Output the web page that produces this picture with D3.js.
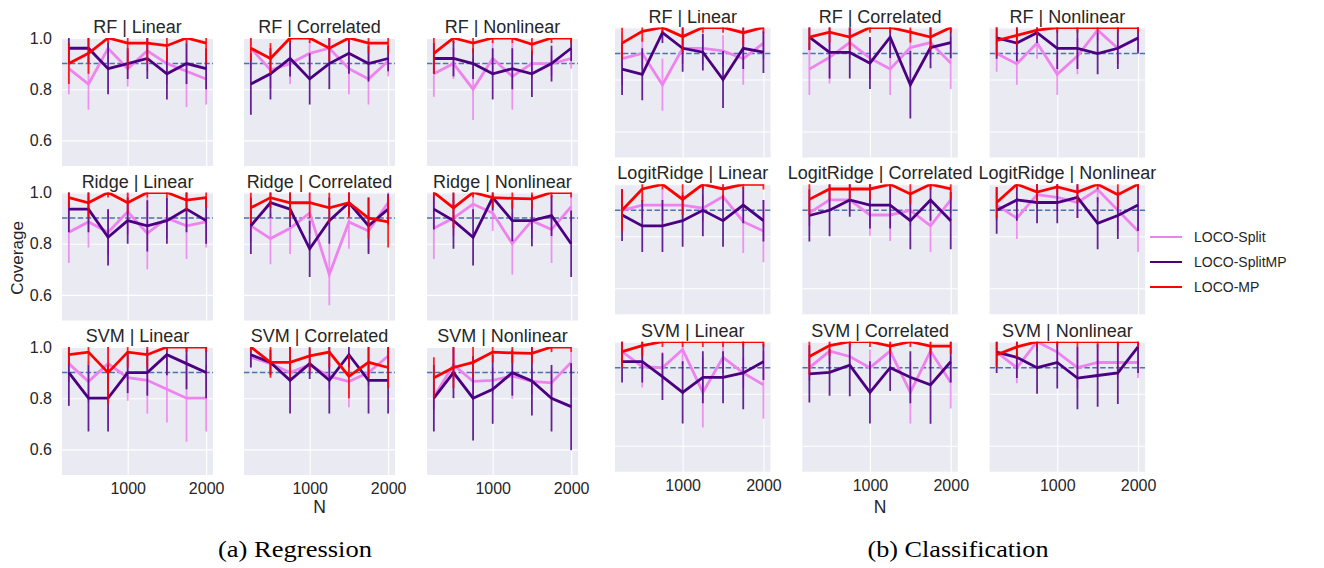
<!DOCTYPE html>
<html><head><meta charset="utf-8">
<script src="https://cdn.jsdelivr.net/npm/d3@7"></script>
<style>body{margin:0;background:#fff}svg{display:block}</style>
</head><body>
<script>
const nValues = [250, 500, 750, 1000, 1250, 1500, 1750, 2000];
const xTicks = [1000, 2000];
const yTicks = [0.6, 0.8, 1.0];
const target = 0.9;
const seriesNames = ["LOCO-Split", "LOCO-SplitMP", "LOCO-MP"];
const regTitles = ["RF | Linear","RF | Correlated","RF | Nonlinear","Ridge | Linear","Ridge | Correlated","Ridge | Nonlinear","SVM | Linear","SVM | Correlated","SVM | Nonlinear"];
const clsTitles = ["RF | Linear","RF | Correlated","RF | Nonlinear","LogitRidge | Linear","LogitRidge | Correlated","LogitRidge | Nonlinear","SVM | Linear","SVM | Correlated","SVM | Nonlinear"];

// Regression
const regSplitMean = [
 [0.88,0.82,0.96,0.88,0.95,0.90,0.87,0.84],
 [0.96,0.875,0.90,0.94,0.96,0.88,0.84,0.91],
 [0.86,0.90,0.80,0.92,0.85,0.90,0.90,0.92],
 [0.845,0.885,0.845,0.925,0.84,0.90,0.87,0.885],
 [0.87,0.82,0.86,0.92,0.68,0.885,0.85,0.96],
 [0.86,0.90,0.955,0.92,0.80,0.89,0.855,0.945],
 [0.935,0.865,0.935,0.88,0.87,0.835,0.80,0.80],
 [0.96,0.935,0.90,0.93,0.885,0.865,0.90,0.965],
 [0.805,0.93,0.866,0.87,0.887,0.866,0.86,0.94]];
const regSplitErr = [
 [0.10,0.10,0.06,0.07,0.08,0.08,0.14,0.10],
 [0.08,0.07,0.08,0.06,0.06,0.10,0.10,0.06],
 [0.09,0.06,0.12,0.07,0.13,0.06,0.05,0.04],
 [0.12,0.10,0.09,0.09,0.14,0.08,0.13,0.10],
 [0.06,0.10,0.10,0.08,0.12,0.105,0.08,0.05],
 [0.12,0.07,0.05,0.07,0.12,0.07,0.13,0.06],
 [0.07,0.08,0.07,0.09,0.13,0.13,0.17,0.13],
 [0.04,0.04,0.04,0.04,0.05,0.10,0.05,0.05],
 [0.05,0.06,0.05,0.05,0.09,0.05,0.05,0.04]];
const regSplitMPMean = [
 [0.96,0.96,0.88,0.90,0.92,0.86,0.90,0.88],
 [0.82,0.86,0.92,0.84,0.90,0.94,0.90,0.92],
 [0.92,0.92,0.90,0.86,0.88,0.86,0.90,0.96],
 [0.935,0.935,0.825,0.89,0.87,0.89,0.935,0.89],
 [0.87,0.96,0.935,0.78,0.89,0.96,0.87,0.935],
 [0.935,0.89,0.825,0.98,0.89,0.89,0.91,0.80],
 [0.90,0.80,0.80,0.90,0.90,0.97,0.935,0.90],
 [0.97,0.94,0.87,0.935,0.87,0.97,0.87,0.87],
 [0.80,0.90,0.80,0.835,0.90,0.867,0.80,0.767]];
const regSplitMPErr = [
 [0.06,0.06,0.10,0.06,0.08,0.10,0.08,0.08],
 [0.12,0.10,0.07,0.10,0.10,0.08,0.07,0.05],
 [0.06,0.07,0.06,0.10,0.08,0.09,0.07,0.05],
 [0.09,0.09,0.11,0.09,0.10,0.09,0.09,0.09],
 [0.11,0.06,0.07,0.11,0.09,0.05,0.11,0.06],
 [0.08,0.11,0.11,0.05,0.08,0.10,0.08,0.13],
 [0.13,0.13,0.13,0.08,0.09,0.08,0.10,0.10],
 [0.05,0.05,0.13,0.06,0.13,0.05,0.13,0.13],
 [0.13,0.10,0.165,0.135,0.09,0.135,0.13,0.17]];
const regMPMean = [
 [0.90,0.94,1.0,0.98,0.98,0.97,1.0,0.98],
 [0.96,0.92,1.0,1.0,0.96,1.0,0.98,0.98],
 [0.94,1.0,0.98,1.0,1.0,0.975,1.0,1.0],
 [0.98,0.96,1.0,0.96,1.0,1.0,0.97,0.98],
 [0.94,0.98,0.96,0.96,0.94,0.96,0.90,0.885],
 [1.0,0.94,1.0,0.98,0.977,0.975,1.0,1.0],
 [0.97,0.98,0.90,0.98,0.97,1.0,1.0,1.0],
 [1.0,0.94,0.94,0.965,0.98,0.885,0.94,0.92],
 [0.88,0.92,0.94,0.98,0.977,0.975,1.0,1.0]];
const regMPErr = [
 [0.08,0.08,0.02,0.10,0.08,0.06,0.02,0.08],
 [0.05,0.06,0.02,0.02,0.05,0.02,0.04,0.04],
 [0.08,0.02,0.04,0.02,0.02,0.04,0.02,0.02],
 [0.04,0.06,0.02,0.04,0.02,0.02,0.04,0.04],
 [0.06,0.04,0.06,0.06,0.06,0.06,0.08,0.10],
 [0.02,0.08,0.02,0.04,0.04,0.04,0.02,0.02],
 [0.04,0.05,0.12,0.06,0.05,0.02,0.02,0.02],
 [0.02,0.06,0.06,0.06,0.06,0.085,0.06,0.08],
 [0.08,0.08,0.06,0.04,0.04,0.04,0.02,0.02]];

// Classification
const clsSplitMean = [
 [0.88,0.90,0.78,0.92,0.92,0.91,0.88,0.94],
 [0.84,0.885,0.942,0.882,0.84,0.923,0.942,0.863],
 [0.90,0.86,0.94,0.82,0.89,0.99,0.92,0.96],
 [0.90,0.92,0.92,0.92,0.908,0.953,0.856,0.82],
 [0.89,0.94,0.94,0.882,0.882,0.90,0.84,0.94],
 [0.92,0.87,0.96,0.95,0.93,0.98,0.90,0.82],
 [0.962,0.904,0.90,0.97,0.805,0.94,0.88,0.834],
 [0.90,0.964,0.943,0.90,0.964,0.805,0.964,0.843],
 [0.96,0.90,1.0,0.96,0.90,0.92,0.92,0.92]];
const clsSplitErr = [
 [0.10,0.06,0.10,0.06,0.06,0.06,0.10,0.06],
 [0.10,0.10,0.06,0.08,0.10,0.07,0.06,0.10],
 [0.07,0.08,0.06,0.08,0.07,0.04,0.06,0.05],
 [0.05,0.05,0.06,0.05,0.05,0.05,0.12,0.12],
 [0.05,0.04,0.04,0.08,0.10,0.06,0.10,0.05],
 [0.06,0.08,0.05,0.05,0.06,0.05,0.08,0.08],
 [0.04,0.08,0.06,0.06,0.135,0.06,0.06,0.13],
 [0.05,0.05,0.05,0.07,0.05,0.12,0.05,0.10],
 [0.05,0.06,0.04,0.05,0.08,0.06,0.06,0.06]];
const clsSplitMPMean = [
 [0.84,0.82,0.98,0.92,0.905,0.80,0.92,0.905],
 [0.963,0.904,0.904,0.863,0.963,0.78,0.923,0.942],
 [0.96,0.94,0.98,0.92,0.92,0.90,0.92,0.96],
 [0.882,0.84,0.84,0.86,0.90,0.86,0.92,0.86],
 [0.88,0.90,0.94,0.92,0.92,0.86,0.94,0.86],
 [0.90,0.94,0.93,0.93,0.95,0.85,0.88,0.92],
 [0.923,0.923,0.866,0.805,0.863,0.863,0.88,0.923],
 [0.876,0.882,0.91,0.805,0.90,0.863,0.834,0.923],
 [0.96,0.94,0.90,0.92,0.86,0.87,0.88,0.98]];
const clsSplitMPErr = [
 [0.10,0.10,0.04,0.09,0.07,0.11,0.08,0.08],
 [0.05,0.10,0.10,0.10,0.08,0.13,0.08,0.06],
 [0.08,0.07,0.04,0.08,0.08,0.08,0.08,0.06],
 [0.10,0.10,0.10,0.10,0.10,0.10,0.07,0.08],
 [0.10,0.10,0.065,0.09,0.09,0.11,0.08,0.11],
 [0.09,0.08,0.08,0.08,0.08,0.10,0.09,0.10],
 [0.08,0.08,0.09,0.12,0.10,0.10,0.14,0.07],
 [0.11,0.09,0.12,0.12,0.09,0.10,0.15,0.08],
 [0.08,0.08,0.10,0.10,0.12,0.12,0.12,0.10]];
const clsMPMean = [
 [0.94,0.985,1.0,0.965,1.0,1.0,0.98,1.0],
 [0.963,0.982,0.963,1.0,1.0,0.982,0.963,1.0],
 [0.95,0.97,0.99,1.0,1.0,1.0,1.0,1.0],
 [0.90,0.982,1.0,0.942,1.0,0.982,1.0,1.0],
 [0.942,0.982,0.982,0.982,1.0,0.963,1.0,0.982],
 [0.93,1.0,0.97,0.99,0.97,1.0,0.96,1.0],
 [0.962,0.985,1.0,1.0,1.0,1.0,1.0,1.0],
 [0.943,0.985,1.0,1.0,0.983,1.0,0.983,0.983],
 [0.95,0.98,1.0,1.0,1.0,1.0,1.0,1.0]];
const clsMPErr = [
 [0.06,0.04,0.02,0.06,0.02,0.02,0.05,0.02],
 [0.05,0.04,0.05,0.02,0.02,0.04,0.05,0.02],
 [0.06,0.04,0.02,0.02,0.02,0.02,0.02,0.02],
 [0.08,0.05,0.02,0.06,0.02,0.04,0.02,0.02],
 [0.06,0.04,0.04,0.04,0.02,0.04,0.02,0.04],
 [0.06,0.02,0.04,0.03,0.04,0.02,0.05,0.02],
 [0.06,0.04,0.02,0.02,0.02,0.02,0.02,0.02],
 [0.07,0.04,0.02,0.02,0.03,0.02,0.03,0.03],
 [0.05,0.04,0.02,0.02,0.02,0.02,0.02,0.02]];

const colors = ["#EE82EE", "#4B0082", "#FF0000"];
const textColor = "#262626";
const FONT = "'Liberation Sans', Arial, sans-serif";

const W = 1324, H = 568;
const svg = d3.select("body").append("svg").attr("width", W).attr("height", H)
  .style("font-family", FONT);

const regLayout = { lefts: [62, 244, 427], tops: [38, 192.5, 347], w: 151, h: 128 };
const clsLayout = { lefts: [615, 802.3, 989.6], tops: [27.5, 184.3, 341.7], w: 155.5, h: 130 };

let clipId = 0;
function drawPanel(layout, idx, title, means, errs, showY, showX) {
  const r = Math.floor(idx / 3), c = idx % 3;
  const x0 = layout.lefts[c], y0 = layout.tops[r];
  const w = layout.w, h = layout.h;
  const x = d3.scaleLinear().domain([162.5, 2087.5]).range([0, w]);
  const y = d3.scaleLinear().domain([0.5, 1.0]).range([h, 0]);
  const g = svg.append("g").attr("transform", `translate(${x0},${y0})`);
  g.append("rect").attr("width", w).attr("height", h).attr("fill", "#EAEAF2");
  const gy = g.append("g").call(d3.axisLeft(y).tickValues(yTicks).tickSize(-w).tickFormat(showY ? d3.format(".1f") : ""));
  const gx = g.append("g")
    .call(d3.axisBottom(x).tickValues(xTicks).tickSize(h).tickFormat(showX ? d3.format("d") : ""));
  [gy, gx].forEach(a => {
    a.select(".domain").remove();
    a.selectAll(".tick line").attr("stroke", "#fff").attr("stroke-width", 1.1);
    a.selectAll(".tick text").attr("fill", textColor).style("font-size", "16px").style("font-family", FONT);
  });
  gy.selectAll(".tick text").attr("x", -10);
  gx.selectAll(".tick text").attr("y", h + 8).attr("dy", "0.71em");
  const id = "clip" + (clipId++);
  g.append("clipPath").attr("id", id).append("rect").attr("width", w).attr("height", h);
  const body = g.append("g").attr("clip-path", `url(#${id})`);
  body.append("line").attr("x1", 0).attr("x2", w).attr("y1", y(target)).attr("y2", y(target))
    .attr("stroke", "#4C72B0").attr("stroke-width", 1.5).attr("stroke-dasharray", "5.5,2.4");
  const line = d3.line().x((d, i) => x(nValues[i])).y(d => y(d));
  means.forEach((m, s) => {
    const e = errs[s];
    body.append("g").selectAll("line").data(m).join("line")
      .attr("x1", (d, i) => x(nValues[i])).attr("x2", (d, i) => x(nValues[i]))
      .attr("y1", (d, i) => y(d - e[i])).attr("y2", (d, i) => y(d + e[i]))
      .attr("stroke", colors[s]).attr("stroke-width", 1.8).attr("stroke-opacity", 0.85);
    body.append("path").datum(m).attr("d", line).attr("fill", "none")
      .attr("stroke", colors[s]).attr("stroke-width", 2.8).attr("stroke-linejoin", "miter");
  });
  g.append("text").attr("x", w / 2).attr("y", -5).attr("text-anchor", "middle")
    .attr("fill", textColor).style("font-size", "18px").text(title);
}

for (let i = 0; i < 9; i++) {
  drawPanel(regLayout, i, regTitles[i],
    [regSplitMean[i], regSplitMPMean[i], regMPMean[i]],
    [regSplitErr[i], regSplitMPErr[i], regMPErr[i]], i % 3 === 0, i >= 6);
  drawPanel(clsLayout, i, clsTitles[i],
    [clsSplitMean[i], clsSplitMPMean[i], clsMPMean[i]],
    [clsSplitErr[i], clsSplitMPErr[i], clsMPErr[i]], false, i >= 6);
}

// axis labels
svg.append("text").attr("transform", "translate(23,258) rotate(-90)").attr("text-anchor", "middle")
  .attr("fill", textColor).style("font-size", "17px").text("Coverage");
svg.append("text").attr("x", regLayout.lefts[1] + regLayout.w / 2).attr("y", 513).attr("text-anchor", "middle")
  .attr("fill", textColor).style("font-size", "17.5px").text("N");
svg.append("text").attr("x", clsLayout.lefts[1] + clsLayout.w / 2).attr("y", 513).attr("text-anchor", "middle")
  .attr("fill", textColor).style("font-size", "17.5px").text("N");

// legend
const leg = svg.append("g").attr("transform", "translate(1150,237)");
seriesNames.forEach((n, i) => {
  const gy = i * 25;
  leg.append("line").attr("x1", 0).attr("x2", 32).attr("y1", gy).attr("y2", gy)
    .attr("stroke", colors[i]).attr("stroke-width", 2);
  leg.append("text").attr("x", 44).attr("y", gy).attr("dy", "0.35em").attr("fill", textColor)
    .style("font-size", "14px").text(n);
});

// captions
const SERIF = "'Liberation Serif','DejaVu Serif',serif";
svg.append("text").attr("x", 295).attr("y", 557).attr("text-anchor", "middle").attr("fill", "#000")
  .attr("textLength", 154).attr("lengthAdjust", "spacingAndGlyphs")
  .style("font-family", SERIF).style("font-size", "23px").text("(a) Regression");
svg.append("text").attr("x", 958).attr("y", 557).attr("text-anchor", "middle").attr("fill", "#000")
  .attr("textLength", 181).attr("lengthAdjust", "spacingAndGlyphs")
  .style("font-family", SERIF).style("font-size", "23px").text("(b) Classification");
</script>
</body></html>
